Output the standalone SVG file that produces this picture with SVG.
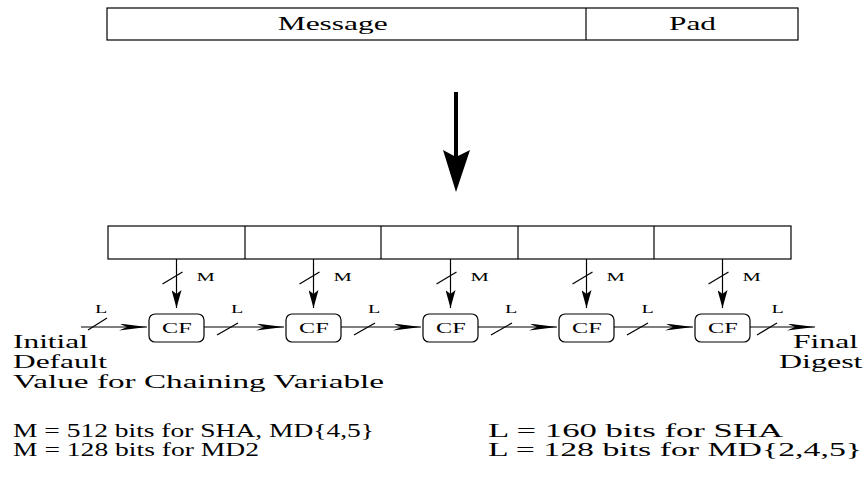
<svg xmlns="http://www.w3.org/2000/svg" width="865" height="484" viewBox="0 0 865 484">
<style>
text{font-family:"Liberation Serif","Times New Roman",serif;fill:#000}
.big{font-size:19px}
.cf{font-size:15px}
.lab{font-size:13px}
.lab2{font-size:12px}
.box{fill:#fff;stroke:#000;stroke-width:1.2}
.ln{stroke:#000;stroke-width:1.2;fill:none}
</style>
<defs>
<marker id="hv" markerUnits="userSpaceOnUse" viewBox="0 0 18 10" refX="18" refY="5" markerWidth="18" markerHeight="10" orient="auto">
<path d="M0,0 L18,5 L0,10 L4,5 Z" fill="#000"/>
</marker>
<marker id="hh" markerUnits="userSpaceOnUse" viewBox="0 0 28 7" refX="28" refY="3.5" markerWidth="28" markerHeight="7" orient="auto">
<path d="M0,0 L28,3.5 L0,7 L8,3.5 Z" fill="#000"/>
</marker>
</defs>
<g id="message-block">
<rect class="box" x="107" y="8" width="691" height="32"/>
<line class="ln" x1="586" y1="8" x2="586" y2="40"/>
<text class="big" x="277.7" y="30" textLength="110" lengthAdjust="spacingAndGlyphs">Message</text>
<text class="big" x="669" y="30" textLength="47" lengthAdjust="spacingAndGlyphs">Pad</text>
</g>
<g id="big-arrow">
<line x1="456" y1="92" x2="456" y2="157" stroke="#000" stroke-width="4"/>
<polygon points="456,192 443,150 456,157 470,150" fill="#000"/>
</g>
<g id="blocks">
<rect class="box" x="108" y="226" width="683" height="33"/>
<line class="ln" x1="245" y1="226" x2="245" y2="259"/>
<line class="ln" x1="381" y1="226" x2="381" y2="259"/>
<line class="ln" x1="518" y1="226" x2="518" y2="259"/>
<line class="ln" x1="654" y1="226" x2="654" y2="259"/>
</g>
<g id="cf1"><rect class="box" x="149" y="314" width="55" height="28" rx="6"/><text class="cf" x="162" y="333" textLength="29.6" lengthAdjust="spacingAndGlyphs">CF</text></g>
<g id="cf2"><rect class="box" x="286" y="314" width="55" height="28" rx="6"/><text class="cf" x="299" y="333" textLength="29.6" lengthAdjust="spacingAndGlyphs">CF</text></g>
<g id="cf3"><rect class="box" x="423" y="314" width="55" height="28" rx="6"/><text class="cf" x="436" y="333" textLength="29.6" lengthAdjust="spacingAndGlyphs">CF</text></g>
<g id="cf4"><rect class="box" x="559" y="314" width="55" height="28" rx="6"/><text class="cf" x="572" y="333" textLength="29.6" lengthAdjust="spacingAndGlyphs">CF</text></g>
<g id="cf5"><rect class="box" x="695" y="314" width="55" height="28" rx="6"/><text class="cf" x="708" y="333" textLength="29.6" lengthAdjust="spacingAndGlyphs">CF</text></g>
<g id="connectors">
<line class="ln" x1="176.5" y1="259" x2="176.5" y2="308" marker-end="url(#hv)"/>
<line class="ln" x1="313.5" y1="259" x2="313.5" y2="308" marker-end="url(#hv)"/>
<line class="ln" x1="450.5" y1="259" x2="450.5" y2="308" marker-end="url(#hv)"/>
<line class="ln" x1="586.5" y1="259" x2="586.5" y2="308" marker-end="url(#hv)"/>
<line class="ln" x1="722.5" y1="259" x2="722.5" y2="308" marker-end="url(#hv)"/>
<line class="ln" x1="162.5" y1="284" x2="182.5" y2="272"/>
<line class="ln" x1="299.5" y1="284" x2="319.5" y2="272"/>
<line class="ln" x1="436.5" y1="284" x2="456.5" y2="272"/>
<line class="ln" x1="572.5" y1="284" x2="592.5" y2="272"/>
<line class="ln" x1="708.5" y1="284" x2="728.5" y2="272"/>
<line class="ln" x1="81" y1="327" x2="147" y2="327" marker-end="url(#hh)"/>
<line class="ln" x1="204" y1="327" x2="284" y2="327" marker-end="url(#hh)"/>
<line class="ln" x1="341" y1="327" x2="421" y2="327" marker-end="url(#hh)"/>
<line class="ln" x1="478" y1="327" x2="557" y2="327" marker-end="url(#hh)"/>
<line class="ln" x1="614" y1="327" x2="693" y2="327" marker-end="url(#hh)"/>
<line class="ln" x1="750" y1="327" x2="815" y2="327" marker-end="url(#hh)"/>
<line class="ln" x1="88" y1="330" x2="107" y2="318"/>
<line class="ln" x1="217" y1="335" x2="238" y2="323"/>
<line class="ln" x1="354" y1="335" x2="375" y2="323"/>
<line class="ln" x1="491" y1="335" x2="512" y2="323"/>
<line class="ln" x1="627" y1="335" x2="648" y2="323"/>
<line class="ln" x1="757" y1="335" x2="777" y2="323"/>
<text class="lab" x="196.5" y="281" textLength="18.3" lengthAdjust="spacingAndGlyphs">M</text>
<text class="lab" x="333.5" y="281" textLength="18.3" lengthAdjust="spacingAndGlyphs">M</text>
<text class="lab" x="470.5" y="281" textLength="18.3" lengthAdjust="spacingAndGlyphs">M</text>
<text class="lab" x="606.5" y="281" textLength="18.3" lengthAdjust="spacingAndGlyphs">M</text>
<text class="lab" x="742.5" y="281" textLength="18.3" lengthAdjust="spacingAndGlyphs">M</text>
<text class="lab2" x="95" y="313" textLength="12.3" lengthAdjust="spacingAndGlyphs">L</text>
<text class="lab2" x="231" y="313" textLength="12.3" lengthAdjust="spacingAndGlyphs">L</text>
<text class="lab2" x="368" y="313" textLength="12.3" lengthAdjust="spacingAndGlyphs">L</text>
<text class="lab2" x="505" y="313" textLength="12.3" lengthAdjust="spacingAndGlyphs">L</text>
<text class="lab2" x="641.5" y="313" textLength="12.3" lengthAdjust="spacingAndGlyphs">L</text>
<text class="lab2" x="771.5" y="313" textLength="12.3" lengthAdjust="spacingAndGlyphs">L</text>
</g>
<g id="labels">
<text class="big" x="13" y="348" textLength="75" lengthAdjust="spacingAndGlyphs">Initial</text>
<text class="big" x="13" y="368" textLength="94" lengthAdjust="spacingAndGlyphs">Default</text>
<text class="big" x="13" y="388" textLength="371" lengthAdjust="spacingAndGlyphs">Value for Chaining Variable</text>
<text class="big" x="793" y="348" textLength="65" lengthAdjust="spacingAndGlyphs">Final</text>
<text class="big" x="779" y="368" textLength="83.5" lengthAdjust="spacingAndGlyphs">Digest</text>
<text class="big" x="13" y="437" textLength="361" lengthAdjust="spacingAndGlyphs">M = 512 bits for SHA, MD{4,5}</text>
<text class="big" x="13" y="456" textLength="246" lengthAdjust="spacingAndGlyphs">M = 128 bits for MD2</text>
<text class="big" x="488" y="437" textLength="295" lengthAdjust="spacingAndGlyphs">L = 160 bits for SHA</text>
<text class="big" x="488" y="456" textLength="374" lengthAdjust="spacingAndGlyphs">L = 128 bits for MD{2,4,5}</text>
</g>
</svg>
